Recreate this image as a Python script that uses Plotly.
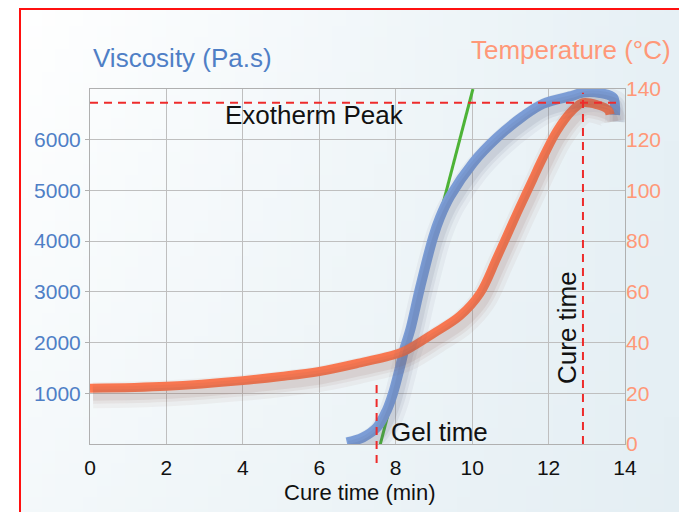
import base64
import struct
import zlib

import plotly.graph_objects as go

# ---------------- data ----------------
time_ticks = [0, 2, 4, 6, 8, 10, 12, 14]
visc_ticks = [1000, 2000, 3000, 4000, 5000, 6000]
temp_ticks = [0, 20, 40, 60, 80, 100, 120, 140]

visc_time = [6.72, 7.14, 7.51, 7.77, 7.93, 8.11, 8.24, 8.38, 8.64, 8.98, 9.16,
             9.42, 10.02, 10.65, 11.33, 11.86, 12.64, 12.90, 13.35, 13.69, 13.74, 13.74]
visc_value = [30, 130, 330, 670, 1000, 1510, 1910, 2250, 3090, 4080, 4470,
              4880, 5540, 6040, 6460, 6710, 6870, 6930, 6920, 6830, 6650, 6490]

temp_time = [0, 2, 4, 5, 6, 7.07, 8.03, 8.30, 8.98, 9.68, 10.21, 10.65, 11.18,
             11.59, 11.78, 12.22, 12.64, 12.90, 13.27, 13.56, 13.61]
temp_value = [22.0, 22.8, 25.0, 26.6, 28.6, 32.0, 35.5, 37.2, 43.5, 50.5, 59.5, 73.5, 91.2,
              104.4, 110.6, 123.5, 131.8, 134.6, 133.8, 131.8, 129.9]

tangent_time = [7.54, 10.02]
tangent_visc = [-166, 7000]

gel_time = 7.5
cure_time = 12.9
exotherm_peak = 134.6

# ---------------- geometry ----------------
# the page body has an 8px margin: reference pixel positions are converted
OFF = 8
W, H = 679, 504
ML, MT = 90 - OFF, 89 - OFF
PW, PH = 535, 355
MR = W - ML - PW
MB = H - MT - PH
X_RANGE = [0, 14]
V_RANGE = [0, 7000]
T_RANGE = [0, 140]


def px_x(px):
    """reference page x pixel -> paper fraction"""
    return (px - OFF - ML) / PW


def px_y(py):
    """reference page y pixel -> paper fraction"""
    return (H - MB - (py - OFF)) / PH


# shadow offsets (pixels)
SDX, SDY = 3, 7
dx = SDX * (X_RANGE[1] - X_RANGE[0]) / PW
dyv = SDY * (V_RANGE[1] - V_RANGE[0]) / PH
dyt = SDY * (T_RANGE[1] - T_RANGE[0]) / PH


def gradient_png(w=48, h=48):
    tl = (255, 255, 255)
    tr = (230, 240, 245)
    bl = (243, 248, 250)
    br = (228, 238, 243)
    raw = bytearray()
    for j in range(h):
        raw.append(0)
        fy = j / (h - 1)
        for i in range(w):
            fx = i / (w - 1)
            px = []
            for k in range(3):
                top = tl[k] + (tr[k] - tl[k]) * fx
                bot = bl[k] + (br[k] - bl[k]) * fx
                px.append(int(round(top + (bot - top) * fy)))
            raw.extend(px)

    def chunk(typ, data):
        c = struct.pack(">I", len(data)) + typ + data
        return c + struct.pack(">I", zlib.crc32(typ + data) & 0xFFFFFFFF)

    png = (b"\x89PNG\r\n\x1a\n"
           + chunk(b"IHDR", struct.pack(">IIBBBBB", w, h, 8, 2, 0, 0, 0))
           + chunk(b"IDAT", zlib.compress(bytes(raw)))
           + chunk(b"IEND", b""))
    return "data:image/png;base64," + base64.b64encode(png).decode()


FONT = "Liberation Sans, Arial, sans-serif"
BLUE_TXT = "#4f7fc6"
ORANGE_TXT = "#ff9878"
BLUE_LINE = "#7fa2dc"
ORANGE_LINE = "#ff7a52"
GRID = "#bfbfbf"

fig = go.Figure()

# soft shadows (same data, drawn on offset overlay axes)
for w, a in [(26, 0.06), (17, 0.08), (11, 0.10)]:
    fig.add_trace(go.Scatter(x=temp_time, y=temp_value, xaxis="x2", yaxis="y4",
                             mode="lines", line=dict(color=f"rgba(140,90,75,{a})", width=w, shape="spline"),
                             hoverinfo="skip", showlegend=False))
    fig.add_trace(go.Scatter(x=visc_time, y=visc_value, xaxis="x2", yaxis="y3",
                             mode="lines", line=dict(color=f"rgba(80,90,115,{a})", width=w, shape="spline"),
                             hoverinfo="skip", showlegend=False))

fig.add_trace(go.Scatter(x=temp_time, y=temp_value, yaxis="y2", mode="lines",
                         line=dict(color=ORANGE_LINE, width=9, shape="spline"),
                         name="Temperature", showlegend=False))
fig.add_trace(go.Scatter(x=tangent_time, y=tangent_visc, mode="lines",
                         line=dict(color="#4db336", width=3),
                         name="Tangent", showlegend=False))
fig.add_trace(go.Scatter(x=visc_time, y=visc_value, mode="lines",
                         line=dict(color=BLUE_LINE, width=10, shape="spline"),
                         name="Viscosity", showlegend=False))

RED = "#ee2b2b"
DASH = "8px,6px"
shapes = [
    dict(type="rect", xref="paper", yref="paper", x0=px_x(20), x1=px_x(684), y0=px_y(560), y1=px_y(9),
         line=dict(color="#ff1010", width=2), fillcolor="rgba(0,0,0,0)", layer="below"),
    dict(type="line", xref="x", yref="y2", x0=0, x1=13.87, y0=exotherm_peak, y1=exotherm_peak,
         line=dict(color=RED, width=2, dash=DASH)),
    dict(type="line", xref="x", yref="y2", x0=cure_time, x1=cure_time, y0=0, y1=138.5,
         line=dict(color=RED, width=2, dash=DASH)),
    dict(type="line", xref="x", yref="paper", x0=gel_time, x1=gel_time, y0=px_y(463), y1=px_y(383),
         line=dict(color=RED, width=2, dash=DASH)),
]


def label(text, x, y, size, color="#111", **kw):
    d = dict(text=text, xref="paper", yref="paper", x=px_x(x), y=px_y(y),
             xanchor="center", yanchor="middle", showarrow=False,
             font=dict(family=FONT, size=size, color=color))
    d.update(kw)
    return d


annotations = [
    label("Viscosity (Pa.s)", 182, 58, 26, BLUE_TXT),
    label("Temperature (°C)", 571, 50, 26, ORANGE_TXT),
    label("Cure time (min)", 360, 492, 22),
    label("Exotherm Peak", 314, 115, 26),
    label("Gel time", 389, 432, 26, xanchor="left"),
    label("Cure time", 567, 328, 26, textangle=-90),
]

fig.update_layout(
    width=W, height=H, autosize=False,
    margin=dict(l=ML, r=MR, t=MT, b=MB, pad=0),
    paper_bgcolor="white",
    plot_bgcolor="rgba(255,255,255,0.4)",
    font=dict(family=FONT),
    showlegend=False,
    images=[dict(source=gradient_png(), xref="paper", yref="paper", x=px_x(20), y=px_y(8),
                 sizex=px_x(684) - px_x(20), sizey=px_y(8) - px_y(560), sizing="stretch",
                 xanchor="left", yanchor="top", layer="below")],
    shapes=shapes,
    annotations=annotations,
    xaxis=dict(range=X_RANGE, tickvals=time_ticks, showgrid=True, gridcolor=GRID, gridwidth=1,
               showline=True, mirror=True, linecolor="#b0b0b0", linewidth=1, zeroline=False,
               ticks="outside", ticklen=5, tickcolor="rgba(0,0,0,0)",
               tickfont=dict(family=FONT, size=21, color="#111")),
    xaxis2=dict(range=[X_RANGE[0] - dx, X_RANGE[1] - dx], overlaying="x", visible=False),
    yaxis=dict(range=V_RANGE, tickvals=visc_ticks, showgrid=True, gridcolor=GRID, gridwidth=1,
               showline=True, mirror=True, linecolor="#b0b0b0", linewidth=1, zeroline=False,
               ticks="outside", ticklen=4, tickcolor="#b0b0b0",
               tickfont=dict(family=FONT, size=21, color=BLUE_TXT)),
    yaxis2=dict(range=T_RANGE, tickvals=temp_ticks, overlaying="y", side="right", showgrid=False,
                showline=False, zeroline=False, ticks="",
                tickfont=dict(family=FONT, size=21, color=ORANGE_TXT)),
    yaxis3=dict(range=[V_RANGE[0] + dyv, V_RANGE[1] + dyv], overlaying="y", visible=False),
    yaxis4=dict(range=[T_RANGE[0] + dyt, T_RANGE[1] + dyt], overlaying="y", visible=False),
)

fig.write_html("out.html")
